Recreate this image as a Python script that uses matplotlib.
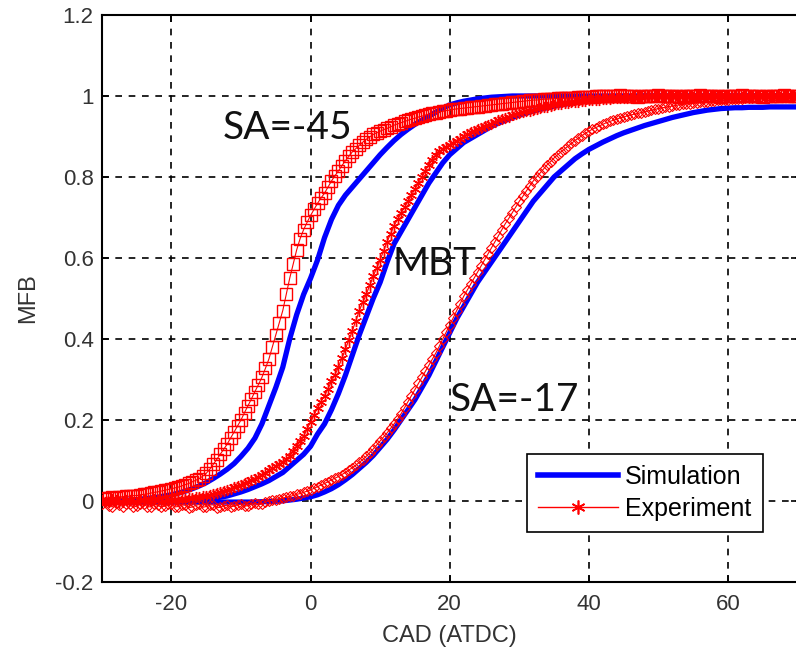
import numpy as np
import matplotlib
matplotlib.use("Agg")
import matplotlib.pyplot as plt
from matplotlib.lines import Line2D

# =========================
# DATA
# =========================
cad_sim = np.arange(-30, 71)          # simulation, 1 deg steps
cad_exp = np.arange(-30, 70.5, 0.5)   # experiment, 0.5 deg steps

sim_sa45 = [
    0.000, 0.000, 0.001, 0.001, 0.002, 0.003, 0.005, 0.007, 0.009, 0.012,
    0.015, 0.019, 0.024, 0.030, 0.037, 0.045, 0.055, 0.066, 0.078, 0.092,
    0.110, 0.130, 0.155, 0.190, 0.235, 0.280, 0.330, 0.400, 0.460, 0.510,
    0.550, 0.595, 0.650, 0.695, 0.730, 0.755, 0.775, 0.795, 0.815, 0.835,
    0.855, 0.873, 0.890, 0.905, 0.918, 0.930, 0.940, 0.950, 0.960, 0.970,
    0.978, 0.983, 0.987, 0.990, 0.993, 0.995, 0.997, 0.998, 0.999, 1.000,
    1.000, 1.000, 1.000, 1.000, 1.000, 1.000, 1.000, 1.000, 1.000, 1.000,
    1.000, 1.000, 1.000, 1.000, 1.000, 1.000, 1.000, 1.000, 1.000, 1.000,
    1.000, 1.000, 1.000, 1.000, 1.000, 1.000, 1.000, 1.000, 1.000, 1.000,
    1.000, 1.000, 1.000, 1.000, 1.000, 1.000, 1.000, 1.000, 1.000, 1.000,
    1.000,
]

sim_mbt = [
    0.000, 0.000, 0.000, 0.000, 0.000, 0.000, 0.000, 0.000, 0.000, 0.000,
    0.000, 0.000, 0.000, 0.000, 0.002, 0.004, 0.006, 0.009, 0.012, 0.017,
    0.022, 0.028, 0.035, 0.042, 0.050, 0.060, 0.070, 0.085, 0.100, 0.115,
    0.135, 0.165, 0.190, 0.225, 0.265, 0.310, 0.360, 0.410, 0.455, 0.500,
    0.540, 0.590, 0.635, 0.665, 0.695, 0.725, 0.755, 0.785, 0.810, 0.835,
    0.855, 0.870, 0.885, 0.895, 0.905, 0.915, 0.925, 0.933, 0.940, 0.947,
    0.953, 0.958, 0.963, 0.967, 0.971, 0.975, 0.978, 0.981, 0.984, 0.987,
    0.989, 0.991, 0.993, 0.995, 0.996, 0.997, 0.998, 0.999, 1.000, 1.000,
    1.000, 1.000, 1.000, 1.000, 1.000, 1.000, 1.000, 1.000, 1.000, 1.000,
    1.000, 1.000, 1.000, 1.000, 1.000, 1.000, 1.000, 1.000, 1.000, 1.000,
    1.000,
]

sim_sa17 = [
    -0.003, -0.003, -0.003, -0.003, -0.003, -0.003, -0.003, -0.003, -0.003, -0.003,
    -0.003, -0.003, -0.003, -0.003, -0.003, -0.003, -0.003, -0.003, -0.003, -0.003,
    -0.003, -0.003, -0.003, -0.002, -0.002, -0.001, 0.000, 0.002, 0.004, 0.007,
    0.010, 0.015, 0.022, 0.030, 0.040, 0.052, 0.065, 0.080, 0.095, 0.112,
    0.132, 0.152, 0.175, 0.200, 0.225, 0.250, 0.280, 0.310, 0.345, 0.380,
    0.415, 0.450, 0.480, 0.510, 0.540, 0.565, 0.590, 0.615, 0.640, 0.665,
    0.690, 0.715, 0.740, 0.760, 0.780, 0.800, 0.815, 0.830, 0.845, 0.857,
    0.868, 0.877, 0.886, 0.894, 0.902, 0.909, 0.915, 0.921, 0.927, 0.932,
    0.937, 0.942, 0.947, 0.951, 0.955, 0.959, 0.962, 0.965, 0.967, 0.969,
    0.970, 0.971, 0.971, 0.972, 0.972, 0.972, 0.973, 0.973, 0.973, 0.973,
    0.973,
]

exp_sa45 = [
    0.006, 0.004, 0.007, 0.009, 0.008, 0.010, 0.010, 0.012, 0.011, 0.013,
    0.013, 0.015, 0.016, 0.017, 0.019, 0.021, 0.022, 0.024, 0.026, 0.028,
    0.030, 0.032, 0.034, 0.037, 0.040, 0.043, 0.047, 0.051, 0.055, 0.061,
    0.068, 0.078, 0.090, 0.102, 0.115, 0.127, 0.140, 0.155, 0.170, 0.185,
    0.200, 0.218, 0.235, 0.252, 0.270, 0.287, 0.305, 0.327, 0.350, 0.380,
    0.410, 0.440, 0.470, 0.510, 0.550, 0.585, 0.620, 0.648, 0.670, 0.688,
    0.705, 0.720, 0.735, 0.748, 0.760, 0.775, 0.790, 0.803, 0.815, 0.828,
    0.840, 0.851, 0.862, 0.870, 0.878, 0.886, 0.893, 0.899, 0.905, 0.909,
    0.913, 0.917, 0.920, 0.924, 0.928, 0.931, 0.934, 0.937, 0.940, 0.943,
    0.945, 0.948, 0.950, 0.953, 0.955, 0.957, 0.959, 0.961, 0.962, 0.964,
    0.965, 0.967, 0.968, 0.969, 0.970, 0.971, 0.972, 0.973, 0.974, 0.975,
    0.976, 0.977, 0.978, 0.979, 0.980, 0.981, 0.982, 0.983, 0.984, 0.985,
    0.986, 0.987, 0.988, 0.989, 0.990, 0.990, 0.991, 0.992, 0.992, 0.993,
    0.993, 0.994, 0.994, 0.995, 0.995, 0.996, 0.996, 0.997, 0.997, 0.998,
    0.998, 0.998, 0.999, 1.000, 0.999, 1.001, 1.000, 0.999, 1.000, 1.002,
    1.000, 0.999, 1.001, 1.000, 0.998, 1.000, 1.001, 1.000, 0.999, 1.000,
    1.002, 1.000, 0.999, 1.000, 1.001, 1.000, 0.998, 1.000, 1.001, 1.000,
    0.999, 1.000, 1.002, 1.000, 0.999, 1.000, 1.001, 1.000, 0.998, 1.000,
    1.001, 1.000, 0.999, 1.000, 1.002, 1.000, 0.999, 1.000, 1.001, 1.000,
    0.998, 1.000, 1.001, 1.000, 0.999, 1.000, 1.002, 1.000, 0.999, 1.000,
    1.001,
]

exp_mbt = [
    0.003, -0.004, -0.002, 0.004, 0.002, -0.003, -0.003, 0.002, 0.001, -0.004,
    -0.002, 0.003, 0.002, -0.003, -0.001, 0.004, 0.003, -0.002, 0.000, 0.003,
    0.003, 0.001, 0.002, 0.004, 0.005, 0.006, 0.007, 0.009, 0.010, 0.011,
    0.013, 0.015, 0.017, 0.019, 0.022, 0.024, 0.027, 0.030, 0.033, 0.036,
    0.040, 0.043, 0.047, 0.051, 0.055, 0.060, 0.065, 0.070, 0.075, 0.080,
    0.086, 0.091, 0.097, 0.103, 0.110, 0.122, 0.135, 0.147, 0.160, 0.177,
    0.195, 0.212, 0.230, 0.245, 0.260, 0.277, 0.295, 0.312, 0.330, 0.352,
    0.375, 0.397, 0.420, 0.445, 0.470, 0.490, 0.510, 0.532, 0.555, 0.575,
    0.595, 0.618, 0.640, 0.660, 0.680, 0.695, 0.710, 0.725, 0.740, 0.755,
    0.770, 0.785, 0.800, 0.815, 0.830, 0.843, 0.855, 0.863, 0.870, 0.875,
    0.880, 0.885, 0.890, 0.895, 0.900, 0.905, 0.910, 0.914, 0.918, 0.922,
    0.925, 0.929, 0.932, 0.936, 0.940, 0.943, 0.946, 0.949, 0.952, 0.955,
    0.957, 0.960, 0.962, 0.964, 0.966, 0.968, 0.970, 0.972, 0.974, 0.976,
    0.977, 0.979, 0.980, 0.982, 0.983, 0.984, 0.985, 0.986, 0.987, 0.988,
    0.989, 0.990, 0.990, 0.991, 0.992, 0.993, 0.993, 0.994, 0.994, 0.995,
    0.995, 0.996, 0.996, 0.997, 0.998, 0.997, 0.997, 0.999, 0.999, 1.000,
    0.999, 1.001, 1.000, 0.999, 1.000, 1.002, 1.000, 0.999, 1.001, 1.000,
    0.998, 1.000, 1.001, 1.000, 0.999, 1.001, 1.000, 0.999, 1.002, 1.000,
    1.000, 0.999, 1.001, 1.000, 0.998, 1.000, 1.001, 1.000, 0.999, 1.000,
    1.002, 1.000, 0.999, 1.001, 1.000, 0.998, 1.000, 1.001, 1.000, 0.999,
    1.000,
]

exp_sa17 = [
    -0.008, -0.004, -0.012, -0.015, -0.006, -0.010, -0.014, -0.007, -0.009, -0.016,
    -0.013, -0.008, -0.007, -0.014, -0.015, -0.009, -0.010, -0.016, -0.013, -0.008,
    -0.008, -0.015, -0.014, -0.010, -0.011, -0.017, -0.015, -0.011, -0.009, -0.016,
    -0.014, -0.010, -0.010, -0.017, -0.016, -0.012, -0.011, -0.015, -0.013, -0.010,
    -0.008, -0.013, -0.012, -0.008, -0.005, -0.009, -0.008, -0.003, 0.000, 0.001,
    0.003, 0.005, 0.007, 0.009, 0.011, 0.013, 0.016, 0.018, 0.021, 0.024,
    0.027, 0.031, 0.035, 0.039, 0.043, 0.047, 0.052, 0.056, 0.060, 0.065,
    0.070, 0.076, 0.082, 0.088, 0.095, 0.102, 0.110, 0.119, 0.128, 0.138,
    0.148, 0.158, 0.168, 0.179, 0.190, 0.202, 0.215, 0.230, 0.245, 0.260,
    0.275, 0.290, 0.305, 0.320, 0.335, 0.350, 0.365, 0.382, 0.400, 0.417,
    0.435, 0.452, 0.470, 0.487, 0.505, 0.520, 0.535, 0.550, 0.565, 0.580,
    0.595, 0.610, 0.625, 0.640, 0.655, 0.670, 0.685, 0.698, 0.712, 0.726,
    0.740, 0.752, 0.765, 0.778, 0.790, 0.800, 0.810, 0.820, 0.830, 0.838,
    0.847, 0.855, 0.862, 0.869, 0.876, 0.883, 0.890, 0.896, 0.902, 0.908,
    0.913, 0.918, 0.922, 0.926, 0.930, 0.934, 0.937, 0.940, 0.943, 0.946,
    0.948, 0.951, 0.953, 0.955, 0.957, 0.959, 0.961, 0.963, 0.965, 0.967,
    0.969, 0.971, 0.972, 0.974, 0.975, 0.977, 0.978, 0.979, 0.980, 0.981,
    0.982, 0.983, 0.984, 0.985, 0.986, 0.987, 0.988, 0.989, 0.990, 0.990,
    0.991, 0.992, 0.992, 0.993, 0.993, 0.994, 0.994, 0.995, 0.995, 0.996,
    0.996, 0.997, 0.997, 0.997, 0.997, 0.998, 0.998, 0.998, 0.998, 0.999,
    0.999,
]

for s in (sim_sa45, sim_mbt, sim_sa17):
    assert len(s) == len(cad_sim)
for s in (exp_sa45, exp_mbt, exp_sa17):
    assert len(s) == len(cad_exp)

xticks = [-20, 0, 20, 40, 60]
yticks = [-0.2, 0, 0.2, 0.4, 0.6, 0.8, 1, 1.2]
ytick_labels = ["-0.2", "0", "0.2", "0.4", "0.6", "0.8", "1", "1.2"]

# =========================
# PLOT
# =========================
plt.rcParams['font.family'] = ['Liberation Sans', 'DejaVu Sans']
plt.rcParams['axes.unicode_minus'] = False

fig = plt.figure(figsize=(7.96, 6.53), dpi=100)
ax = fig.add_axes([0.128, 0.109, 0.874, 0.868])

asterisk = (6, 2, 0)
blue = '#0000ff'
red = '#ff0000'

for ys in [sim_sa45, sim_mbt, sim_sa17]:
    ax.plot(cad_sim, ys, color=blue, lw=3.8, zorder=2)

ax.plot(cad_exp, exp_sa45, color=red, lw=0.8, marker='s', ms=8.5,
        mfc='none', mec=red, mew=1.0, zorder=3)
ax.plot(cad_exp, exp_mbt, color=red, lw=0.8, marker=asterisk, ms=8,
        mec=red, mew=1.0, zorder=3)
ax.plot(cad_exp, exp_sa17, color=red, lw=0.8, marker='D', ms=5.5,
        mfc='none', mec=red, mew=0.8, zorder=3)

ax.set_xlim(-30, 70)
ax.set_ylim(-0.2, 1.2)
ax.set_xticks(xticks)
ax.set_yticks(yticks)
ax.set_yticklabels(ytick_labels)

ax.grid(True, color='black', linestyle=(0, (4, 4)), linewidth=1.2)
ax.set_axisbelow(True)
ax.tick_params(direction='in', length=5, width=1.2, top=True, right=True,
               labelsize=16, labelcolor='#333333')
ax.tick_params(axis='x', pad=9)
ax.tick_params(axis='y', pad=6)
for sp in ax.spines.values():
    sp.set_linewidth(1.5)

ax.set_xlabel("CAD (ATDC)", fontsize=17, color='#333333', labelpad=7)
ax.set_ylabel("MFB", fontsize=17, color='#333333', labelpad=12)

# curve labels
ann_font = dict(fontsize=28, family=['Lato', 'DejaVu Sans'], color='#111111',
                va='center', ha='left')
ax.text(-12.6, 0.92, "SA=-45", **ann_font)
ax.text(11.8, 0.585, "MBT", **ann_font)
ax.text(20.0, 0.25, "SA=-17", **ann_font)

handles = [
    Line2D([], [], color=blue, lw=4),
    Line2D([], [], color=red, lw=1, marker=asterisk, ms=10, mew=1.2),
]
leg = ax.legend(handles, ["Simulation", "Experiment"], loc='lower right',
                bbox_to_anchor=(0.950, 0.088), borderaxespad=0,
                fontsize=18, handlelength=3.2, handletextpad=0.3,
                fancybox=False, edgecolor='black', framealpha=1,
                borderpad=0.45, labelspacing=0.3)
leg.get_frame().set_linewidth(1.2)

fig.savefig("out.png", dpi=100)
